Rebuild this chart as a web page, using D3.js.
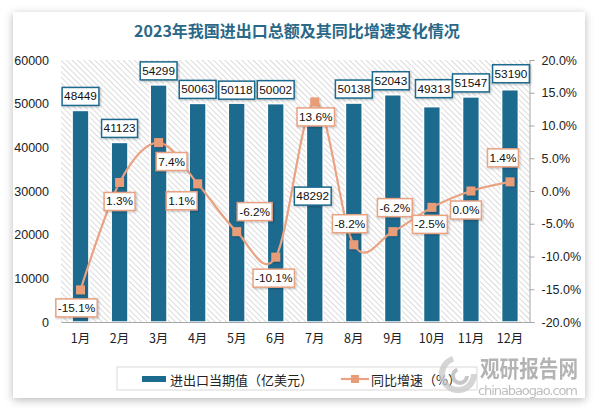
<!DOCTYPE html>
<html><head><meta charset="utf-8">
<script src="https://cdn.jsdelivr.net/npm/d3@7/dist/d3.min.js"></script>
<style>
html,body{margin:0;padding:0;background:#fff;}
svg{display:block;}
</style></head>
<body>
<svg id="chart" width="599" height="417"></svg>
<script>
// ---- data ----
const months = ["1月","2月","3月","4月","5月","6月","7月","8月","9月","10月","11月","12月"];
const tradeValues = [48449,41123,54299,50063,50118,50002,48292,50138,52043,49313,51547,53190];
const growthRates = [-15.1,1.3,7.4,1.1,-6.2,-10.1,13.6,-8.2,-6.2,-2.5,0.0,1.4];
const leftTicks = [0,10000,20000,30000,40000,50000,60000];
const rightTicks = [-20,-15,-10,-5,0,5,10,15,20];
const titleText = "2023年我国进出口总额及其同比增速变化情况";
const legendBar = "进出口当期值（亿美元）";
const legendLine = "同比增速（%）";

// ---- label layout tweaks (dx, dy from anchor) ----
const barLabelOffset = [[0,-14],[0,-14],[0,-14],[0,-14],[0,-13],[0,-14],[-2,85],[0,-14],[-2,-14],[2,-18],[0,-14],[1,-16]];
const lineLabelOffset = [[-4,18],[0,19],[13,19],[-16,17],[18,-20],[-2,21],[1,15],[-4,-21],[2,-24],[-2,17],[-5,19],[-7,-24]];

const svg = d3.select("#chart");
const defs = svg.append("defs");
const sh = defs.append("filter").attr("id","cardShadow").attr("x","-5%").attr("y","-5%").attr("width","110%").attr("height","112%");
sh.append("feDropShadow").attr("dx",0).attr("dy",2).attr("stdDeviation",4).attr("flood-color","#000").attr("flood-opacity",0.28);
const sh2 = defs.append("filter").attr("id","smallShadow").attr("x","-30%").attr("y","-30%").attr("width","160%").attr("height","160%");
sh2.append("feDropShadow").attr("dx",1).attr("dy",1).attr("stdDeviation",1).attr("flood-color","#000").attr("flood-opacity",0.25);
const pat = defs.append("pattern").attr("id","hatch").attr("patternUnits","userSpaceOnUse")
  .attr("width",4).attr("height",4).attr("patternTransform","rotate(-45)");
pat.append("rect").attr("width",4).attr("height",4).attr("fill","#ffffff");
pat.append("line").attr("x1",0).attr("y1",0).attr("x2",0).attr("y2",4).attr("stroke","#d2d2d2").attr("stroke-width",1.6);

// card
svg.append("rect").attr("x",13).attr("y",12).attr("width",572).attr("height",386)
  .attr("fill","#fff").attr("filter","url(#cardShadow)");

// title
svg.append("text").attr("x",297).attr("y",37).attr("text-anchor","middle")
  .attr("font-family","'Noto Sans CJK SC', sans-serif").attr("font-weight","bold")
  .attr("font-size",16).attr("fill","#2A6888").text(titleText);

const plot = {left:61, right:529.5, top:60, bottom:322};
const x = d3.scaleBand().domain(months).range([plot.left, plot.right]).padding(0);
const yL = d3.scaleLinear().domain([0,60000]).range([plot.bottom, plot.top]);
const yR = d3.scaleLinear().domain([-20,20]).range([plot.bottom, plot.top]);

// hatched plot background
svg.append("rect").attr("x",plot.left).attr("y",plot.top).attr("width",plot.right-plot.left)
  .attr("height",plot.bottom-plot.top).attr("fill","url(#hatch)");

const numFont = "'Liberation Sans', 'DejaVu Sans', sans-serif";
const cjkFont = "'Noto Sans CJK SC', sans-serif";

// left axis (labels only)
const axL = svg.append("g").attr("transform",`translate(${plot.left},0)`)
  .call(d3.axisLeft(yL).tickValues(leftTicks).tickSize(0).tickPadding(12).tickFormat(d3.format("d")));
axL.select(".domain").remove();
axL.selectAll("text").attr("font-family",numFont).attr("font-size",12.5).attr("fill","#222");

// right axis
const axR = svg.append("g").attr("transform",`translate(${plot.right},0)`)
  .call(d3.axisRight(yR).tickValues(rightTicks).tickSize(5).tickPadding(7).tickFormat(d => d.toFixed(1)+"%"));
axR.select(".domain").attr("stroke","#a6a6a6");
axR.selectAll(".tick line").attr("stroke","#a6a6a6");
axR.selectAll("text").attr("font-family",numFont).attr("font-size",12.5).attr("fill","#222");

// bars
const bw = x.bandwidth()*0.43;
svg.append("g").selectAll("rect").data(tradeValues).join("rect")
  .attr("x",(d,i)=>x(months[i])+x.bandwidth()/2-bw/2)
  .attr("y",d=>yL(d)).attr("width",bw).attr("height",d=>yL(0)-yL(d))
  .attr("fill","#1D6A8F").attr("stroke","#fff").attr("stroke-width",1.5);

// bottom axis
const axB = svg.append("g").attr("transform",`translate(0,${plot.bottom})`)
  .call(d3.axisBottom(x).tickSize(0).tickPadding(12));
axB.select(".domain").attr("stroke","#a6a6a6").attr("stroke-width",1.2);
axB.selectAll("text").attr("font-family",cjkFont).attr("font-size",12.5).attr("fill","#222");

// line
const pts = growthRates.map((d,i)=>[x(months[i])+x.bandwidth()/2, yR(d)]);
svg.append("path").datum(pts).attr("d",d3.line().curve(d3.curveCardinal.tension(0)))
  .attr("fill","none").attr("stroke","#E9A282").attr("stroke-width",2.2);
svg.append("g").selectAll("rect").data(pts).join("rect")
  .attr("x",d=>d[0]-4.5).attr("y",d=>d[1]-4.5).attr("width",9).attr("height",9)
  .attr("fill","#E89C78").attr("filter","url(#smallShadow)");

// label helper
function labelBox(g, cx, cy, txt, border){
  const grp = g.append("g");
  const rect = grp.append("rect");
  const t = grp.append("text").attr("x",cx).attr("y",cy).attr("text-anchor","middle")
    .attr("dominant-baseline","central").attr("font-family",numFont).attr("font-size",11.8)
    .attr("fill","#111").text(txt);
  const w = t.node().getComputedTextLength()+4;
  const h = 18;
  rect.attr("x",cx-w/2).attr("y",cy-h/2).attr("width",w).attr("height",h)
    .attr("fill","#fff").attr("stroke",border).attr("stroke-width",1.5).attr("filter","url(#smallShadow)");
}
const labG = svg.append("g");
tradeValues.forEach((v,i)=>{
  const cx = x(months[i])+x.bandwidth()/2 + barLabelOffset[i][0];
  const cy = yL(v) + barLabelOffset[i][1];
  labelBox(labG, cx, cy, String(v), "#1D6A8F");
});
growthRates.forEach((v,i)=>{
  const cx = pts[i][0] + lineLabelOffset[i][0];
  const cy = pts[i][1] + lineLabelOffset[i][1];
  labelBox(labG, cx, cy, v.toFixed(1)+"%", "#E9A282");
});

// legend
const lg = svg.append("g");
lg.append("rect").attr("x",117).attr("y",367).attr("width",360).attr("height",23)
  .attr("fill","#fff").attr("stroke","#d9d9d9").attr("stroke-width",1);
lg.append("rect").attr("x",142).attr("y",376).attr("width",24).attr("height",6).attr("fill","#1D6A8F");
lg.append("text").attr("x",170).attr("y",379).attr("dominant-baseline","central")
  .attr("font-family",cjkFont).attr("font-size",13).attr("fill","#222").text(legendBar);
lg.append("line").attr("x1",341).attr("x2",369).attr("y1",379).attr("y2",379)
  .attr("stroke","#E9A282").attr("stroke-width",2.2);
lg.append("rect").attr("x",351).attr("y",375).attr("width",8).attr("height",8).attr("fill","#E89C78");
lg.append("text").attr("x",371).attr("y",379).attr("dominant-baseline","central")
  .attr("font-family",cjkFont).attr("font-size",13).attr("fill","#222").text(legendLine);

// watermark
const wm = svg.append("g").attr("opacity",0.75);
wm.append("circle").attr("cx",458).attr("cy",374).attr("r",16).attr("fill","none")
  .attr("stroke","#c8c8c8").attr("stroke-width",6).attr("stroke-dasharray","70 30");
wm.append("circle").attr("cx",460).attr("cy",376).attr("r",7).attr("fill","none")
  .attr("stroke","#b5b5b5").attr("stroke-width",4).attr("stroke-dasharray","30 14");
wm.append("text").attr("x",480).attr("y",377).attr("font-family",cjkFont).attr("font-weight","bold")
  .attr("font-size",23).attr("fill","#9a9a9a").attr("textLength",98).attr("lengthAdjust","spacingAndGlyphs").text("观研报告网");
wm.append("text").attr("x",478).attr("y",395).attr("font-family","'DejaVu Sans', sans-serif")
  .attr("font-size",13).attr("fill","#a8a8a8").attr("textLength",100).text("chinabaogao.com");
</script>
</body></html>
